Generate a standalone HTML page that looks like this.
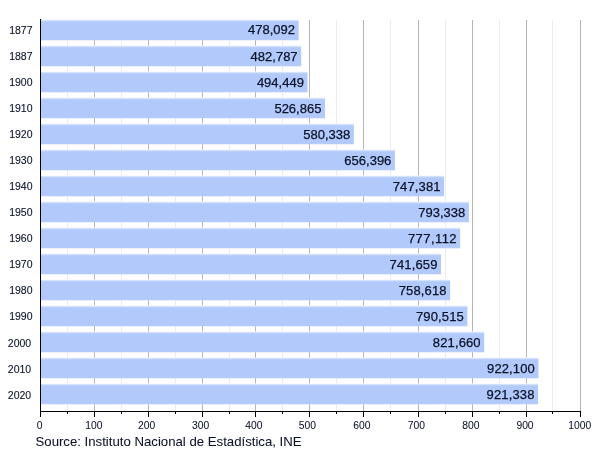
<!DOCTYPE html>
<html><head><meta charset="utf-8"><style>
html,body{margin:0;padding:0;background:#fff;width:600px;height:450px;overflow:hidden}
svg{display:block;will-change:transform;font-family:"Liberation Sans",sans-serif}
</style></head><body><div id="w">
<svg width="600" height="450" viewBox="0 0 600 450" fill="#000" stroke-width="1">
<style>text{fill:#0a1226;stroke:#0a1226;stroke-width:0.25px} text.c{stroke-width:0.1px} text.t{stroke-width:0.05px}</style>
<defs><linearGradient id="g" x1="0" y1="0" x2="0" y2="1"><stop offset="0" stop-color="#f4f8ff"/><stop offset="0.11" stop-color="#b2cafb"/><stop offset="0.95" stop-color="#b2cafb"/><stop offset="1" stop-color="#c8d8fc"/></linearGradient></defs>
<line x1="67.5" y1="20" x2="67.5" y2="411" stroke="#ececec"/>
<line x1="121.5" y1="20" x2="121.5" y2="411" stroke="#ececec"/>
<line x1="175.5" y1="20" x2="175.5" y2="411" stroke="#ececec"/>
<line x1="229.5" y1="20" x2="229.5" y2="411" stroke="#ececec"/>
<line x1="282.5" y1="20" x2="282.5" y2="411" stroke="#ececec"/>
<line x1="336.5" y1="20" x2="336.5" y2="411" stroke="#ececec"/>
<line x1="390.5" y1="20" x2="390.5" y2="411" stroke="#ececec"/>
<line x1="445.5" y1="20" x2="445.5" y2="411" stroke="#ececec"/>
<line x1="499.5" y1="20" x2="499.5" y2="411" stroke="#ececec"/>
<line x1="552.5" y1="20" x2="552.5" y2="411" stroke="#ececec"/>
<line x1="94.5" y1="20" x2="94.5" y2="411" stroke="#b6b6b6"/>
<line x1="148.5" y1="20" x2="148.5" y2="411" stroke="#b6b6b6"/>
<line x1="202.5" y1="20" x2="202.5" y2="411" stroke="#b6b6b6"/>
<line x1="255.5" y1="20" x2="255.5" y2="411" stroke="#b6b6b6"/>
<line x1="309.5" y1="20" x2="309.5" y2="411" stroke="#b6b6b6"/>
<line x1="363.5" y1="20" x2="363.5" y2="411" stroke="#b6b6b6"/>
<line x1="418.5" y1="20" x2="418.5" y2="411" stroke="#b6b6b6"/>
<line x1="472.5" y1="20" x2="472.5" y2="411" stroke="#b6b6b6"/>
<line x1="526.5" y1="20" x2="526.5" y2="411" stroke="#b6b6b6"/>
<line x1="580.5" y1="20" x2="580.5" y2="411" stroke="#b6b6b6"/>
<rect x="41" y="19.40" width="257.67" height="21.0" fill="url(#g)"/>
<text x="295.07" y="34.20" text-anchor="end" font-size="13">478,092</text>
<text x="32.5" y="33.90" text-anchor="end" class="c" font-size="10.5">1877</text>
<rect x="41" y="45.40" width="260.20" height="21.0" fill="url(#g)"/>
<text x="297.60" y="61.10" text-anchor="end" font-size="13">482,787</text>
<text x="32.5" y="59.90" text-anchor="end" class="c" font-size="10.5">1887</text>
<rect x="41" y="71.40" width="266.50" height="21.0" fill="url(#g)"/>
<text x="303.90" y="87.10" text-anchor="end" font-size="13">494,449</text>
<text x="32.5" y="85.90" text-anchor="end" class="c" font-size="10.5">1900</text>
<rect x="41" y="97.40" width="284.01" height="21.0" fill="url(#g)"/>
<text x="321.41" y="113.10" text-anchor="end" font-size="13">526,865</text>
<text x="32.5" y="111.90" text-anchor="end" class="c" font-size="10.5">1910</text>
<rect x="41" y="123.40" width="312.88" height="21.0" fill="url(#g)"/>
<text x="350.28" y="139.10" text-anchor="end" font-size="13">580,338</text>
<text x="32.5" y="137.90" text-anchor="end" class="c" font-size="10.5">1920</text>
<rect x="41" y="149.40" width="353.95" height="21.0" fill="url(#g)"/>
<text x="391.35" y="165.10" text-anchor="end" font-size="13">656,396</text>
<text x="32.5" y="163.90" text-anchor="end" class="c" font-size="10.5">1930</text>
<rect x="41" y="175.40" width="403.09" height="21.0" fill="url(#g)"/>
<text x="440.49" y="191.10" text-anchor="end" font-size="13" textLength="47.80" lengthAdjust="spacing">747,381</text>
<text x="32.5" y="189.90" text-anchor="end" class="c" font-size="10.5">1940</text>
<rect x="41" y="201.40" width="427.90" height="21.0" fill="url(#g)"/>
<text x="465.30" y="217.10" text-anchor="end" font-size="13">793,338</text>
<text x="32.5" y="215.90" text-anchor="end" class="c" font-size="10.5">1950</text>
<rect x="41" y="227.40" width="419.14" height="21.0" fill="url(#g)"/>
<text x="456.54" y="243.10" text-anchor="end" font-size="13" textLength="48.60" lengthAdjust="spacing">777,112</text>
<text x="32.5" y="241.90" text-anchor="end" class="c" font-size="10.5">1960</text>
<rect x="41" y="253.40" width="400.00" height="21.0" fill="url(#g)"/>
<text x="437.40" y="269.10" text-anchor="end" font-size="13" textLength="47.80" lengthAdjust="spacing">741,659</text>
<text x="32.5" y="267.90" text-anchor="end" class="c" font-size="10.5">1970</text>
<rect x="41" y="279.40" width="409.15" height="21.0" fill="url(#g)"/>
<text x="446.55" y="295.10" text-anchor="end" font-size="13" textLength="47.80" lengthAdjust="spacing">758,618</text>
<text x="32.5" y="293.90" text-anchor="end" class="c" font-size="10.5">1980</text>
<rect x="41" y="305.40" width="426.38" height="21.0" fill="url(#g)"/>
<text x="463.78" y="321.10" text-anchor="end" font-size="13" textLength="47.80" lengthAdjust="spacing">790,515</text>
<text x="32.5" y="319.90" text-anchor="end" class="c" font-size="10.5">1990</text>
<rect x="41" y="331.40" width="443.20" height="21.0" fill="url(#g)"/>
<text x="480.60" y="347.10" text-anchor="end" font-size="13" textLength="47.80" lengthAdjust="spacing">821,660</text>
<text x="31.2" y="346.70" text-anchor="end" class="c" font-size="10.5">2000</text>
<rect x="41" y="357.40" width="497.43" height="21.0" fill="url(#g)"/>
<text x="534.83" y="373.10" text-anchor="end" font-size="13" textLength="47.80" lengthAdjust="spacing">922,100</text>
<text x="31.2" y="372.70" text-anchor="end" class="c" font-size="10.5">2010</text>
<rect x="41" y="383.40" width="497.02" height="21.0" fill="url(#g)"/>
<text x="534.42" y="399.10" text-anchor="end" font-size="13" textLength="47.80" lengthAdjust="spacing">921,338</text>
<text x="31.2" y="398.70" text-anchor="end" class="c" font-size="10.5">2020</text>
<line x1="40.5" y1="19" x2="40.5" y2="417" stroke="#000"/>
<line x1="40" y1="411.5" x2="581" y2="411.5" stroke="#000"/>
<line x1="40.5" y1="411" x2="40.5" y2="417" stroke="#000"/>
<text x="39.50" y="428.8" text-anchor="middle" class="t" font-size="10.3">0</text>
<line x1="94.5" y1="411" x2="94.5" y2="417" stroke="#000"/>
<text x="93.80" y="428.8" text-anchor="middle" class="t" font-size="10.3">100</text>
<line x1="148.5" y1="411" x2="148.5" y2="417" stroke="#000"/>
<text x="146.55" y="428.8" text-anchor="middle" class="t" font-size="10.3">200</text>
<line x1="202.5" y1="411" x2="202.5" y2="417" stroke="#000"/>
<text x="200.65" y="428.8" text-anchor="middle" class="t" font-size="10.3">300</text>
<line x1="255.5" y1="411" x2="255.5" y2="417" stroke="#000"/>
<text x="253.95" y="428.8" text-anchor="middle" class="t" font-size="10.3">400</text>
<line x1="309.5" y1="411" x2="309.5" y2="417" stroke="#000"/>
<text x="307.40" y="428.8" text-anchor="middle" class="t" font-size="10.3">500</text>
<line x1="363.5" y1="411" x2="363.5" y2="417" stroke="#000"/>
<text x="361.95" y="428.8" text-anchor="middle" class="t" font-size="10.3">600</text>
<line x1="418.5" y1="411" x2="418.5" y2="417" stroke="#000"/>
<text x="416.45" y="428.8" text-anchor="middle" class="t" font-size="10.3">700</text>
<line x1="472.5" y1="411" x2="472.5" y2="417" stroke="#000"/>
<text x="470.95" y="428.8" text-anchor="middle" class="t" font-size="10.3">800</text>
<line x1="526.5" y1="411" x2="526.5" y2="417" stroke="#000"/>
<text x="525.00" y="428.8" text-anchor="middle" class="t" font-size="10.3">900</text>
<line x1="580.5" y1="411" x2="580.5" y2="417" stroke="#000"/>
<text x="579.80" y="428.8" text-anchor="middle" class="t" font-size="10.3">1000</text>
<line x1="67.5" y1="411" x2="67.5" y2="414" stroke="#000"/>
<line x1="121.5" y1="411" x2="121.5" y2="414" stroke="#000"/>
<line x1="175.5" y1="411" x2="175.5" y2="414" stroke="#000"/>
<line x1="229.5" y1="411" x2="229.5" y2="414" stroke="#000"/>
<line x1="282.5" y1="411" x2="282.5" y2="414" stroke="#000"/>
<line x1="336.5" y1="411" x2="336.5" y2="414" stroke="#000"/>
<line x1="390.5" y1="411" x2="390.5" y2="414" stroke="#000"/>
<line x1="445.5" y1="411" x2="445.5" y2="414" stroke="#000"/>
<line x1="499.5" y1="411" x2="499.5" y2="414" stroke="#000"/>
<line x1="552.5" y1="411" x2="552.5" y2="414" stroke="#000"/>
<text x="35.5" y="445.7" class="t" font-size="13.2">Source: Instituto Nacional de Estadística, INE</text>
</svg>
</body></html>
